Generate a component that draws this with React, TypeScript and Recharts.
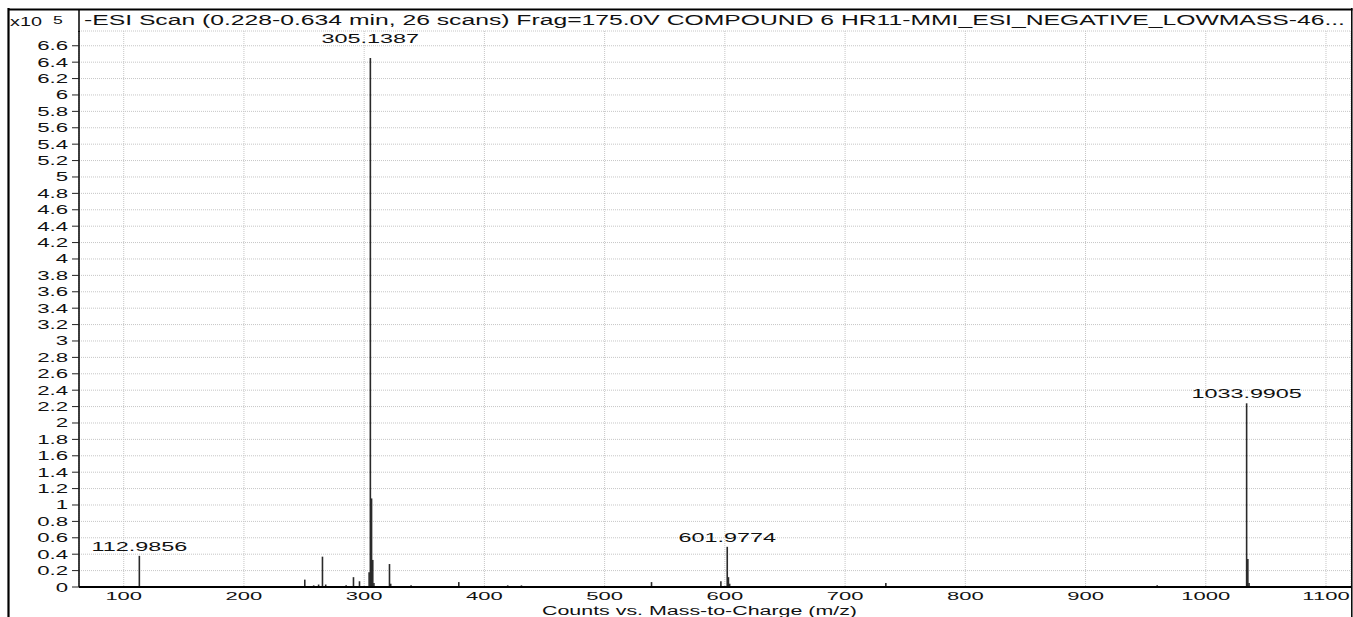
import React from "react";
import { BarChart, Bar, XAxis, YAxis, CartesianGrid, LabelList } from "recharts";

// m/z of each observed peak
const peakMz: number[] = [
  112.99, 250.6, 258.0, 262.1, 265.3, 268.0, 285.0, 291.1, 296.1, 304.13,
  305.14, 306.14, 307.14, 308.1, 321.05, 322.05, 339.0, 378.7, 419.4, 430.8,
  539.0, 596.7, 601.98, 602.98, 603.98, 733.9, 959.6, 1033.99, 1034.99, 1035.99,
];
// counts (x10^5)
const peakCounts: number[] = [
  0.38, 0.09, 0.02, 0.03, 0.37, 0.03, 0.02, 0.12, 0.07, 0.18,
  6.45, 1.08, 0.33, 0.05, 0.28, 0.04, 0.02, 0.06, 0.02, 0.02,
  0.06, 0.07, 0.49, 0.12, 0.04, 0.05, 0.02, 2.24, 0.34, 0.05,
];
// annotated peak labels
const peakLabels: string[] = [
  "112.9856", "", "", "", "", "", "", "", "", "",
  "305.1387", "", "", "", "", "", "", "", "", "",
  "", "", "601.9774", "", "", "", "", "1033.9905", "", "",
];
const xTicks: number[] = [100, 200, 300, 400, 500, 600, 700, 800, 900, 1000, 1100];
const yTicks: number[] = [
  0, 0.2, 0.4, 0.6, 0.8, 1, 1.2, 1.4, 1.6, 1.8, 2, 2.2, 2.4, 2.6, 2.8, 3, 3.2,
  3.4, 3.6, 3.8, 4, 4.2, 4.4, 4.6, 4.8, 5, 5.2, 5.4, 5.6, 5.8, 6, 6.2, 6.4, 6.6,
];
const titleText =
  "-ESI Scan (0.228-0.634 min, 26 scans) Frag=175.0V COMPOUND 6 HR11-MMI_ESI_NEGATIVE_LOWMASS-46...";
const xAxisTitle = "Counts vs. Mass-to-Charge (m/z)";

const data = peakMz.map((mz, i) => ({ mz, counts: peakCounts[i], label: peakLabels[i] }));

const FONT = "'Liberation Sans', Arial, Helvetica, sans-serif";

const YTick = (props: any) => {
  const { x, y, payload } = props;
  const txt = String(Number(Number(payload.value).toFixed(1)));
  return (
    <text
      transform={`translate(${x},${y + 4.5}) scale(1.85,1)`}
      textAnchor="end"
      fontFamily={FONT}
      fontSize={12}
      fill="#111"
    >
      {txt}
    </text>
  );
};

const XTick = (props: any) => {
  const { x, y, payload } = props;
  return (
    <text
      transform={`translate(${x},${y + 13}) scale(2.0,1)`}
      textAnchor="middle"
      fontFamily={FONT}
      fontSize={11}
      fill="#111"
    >
      {String(payload.value)}
    </text>
  );
};

const Stick = (props: any) => {
  const { x, y, width, height } = props;
  if (height === undefined || height <= 0) return null;
  const cx = x + width / 2;
  return <line x1={cx} x2={cx} y1={y} y2={y + height} stroke="#2a2a2a" strokeWidth={1.6} />;
};

const PeakLabel = (props: any) => {
  const { x, y, width, value } = props;
  if (!value) return null;
  const cx = x + width / 2;
  const off = y < 100 ? 15 : 5;
  return (
    <text
      transform={`translate(${cx},${y - off}) scale(1.8,1)`}
      textAnchor="middle"
      fontFamily={FONT}
      fontSize={13}
      fill="#111"
    >
      {value}
    </text>
  );
};

export default function App() {
  return (
    <div style={{ position: "absolute", left: 0, top: 0, width: 1353, height: 617, background: "#fff" }}>
      <div style={{ position: "absolute", left: 0, top: 0 }}>
        <BarChart
          width={1353}
          height={617}
          data={data}
          margin={{ top: 31, right: 2, bottom: 0, left: 19 }}
        >
          <CartesianGrid stroke="#c6c6c6" strokeDasharray="1 1" />
          <XAxis
            dataKey="mz"
            type="number"
            domain={[62.8, 1120.8]}
            allowDataOverflow
            ticks={xTicks}
            interval={0}
            tick={<XTick />}
            tickLine={false}
            tickSize={0}
            tickMargin={0}
            height={30}
            axisLine={{ stroke: "#000", strokeWidth: 2 }}
          />
          <YAxis
            type="number"
            domain={[0, 6.78]}
            allowDataOverflow
            ticks={yTicks}
            interval={0}
            tick={<YTick />}
            tickSize={7}
            tickMargin={4}
            width={60}
            tickLine={{ stroke: "#222", strokeWidth: 1 }}
            axisLine={{ stroke: "#000", strokeWidth: 1.5 }}
          />
          <Bar dataKey="counts" isAnimationActive={false} shape={<Stick />}>
            <LabelList dataKey="label" content={<PeakLabel />} />
          </Bar>
        </BarChart>
      </div>
      <svg
        width={1353}
        height={617}
        style={{ position: "absolute", left: 0, top: 0, pointerEvents: "none" }}
      >
        <line x1={8.5} x2={8.5} y1={8} y2={617} stroke="#000" strokeWidth={2.2} />
        <line x1={8} x2={1352.5} y1={9.5} y2={9.5} stroke="#000" strokeWidth={2} />
        <line x1={1351.8} x2={1351.8} y1={8} y2={617} stroke="#000" strokeWidth={1.5} />
        <line x1={79} x2={79} y1={9} y2={32} stroke="#000" strokeWidth={1.5} />
        <text transform="translate(10,26) scale(1.65,1)" fontFamily={FONT} fontSize={12} fill="#111">
          x10
        </text>
        <text transform="translate(53,24) scale(1.6,1)" fontFamily={FONT} fontSize={11} fill="#111">
          5
        </text>
        <text
          x={84}
          y={25}
          fontFamily={FONT}
          fontSize={14}
          fill="#111"
          textLength={1261}
          lengthAdjust="spacingAndGlyphs"
        >
          {titleText}
        </text>
        <text
          x={542}
          y={615}
          fontFamily={FONT}
          fontSize={12}
          fill="#111"
          textLength={315}
          lengthAdjust="spacingAndGlyphs"
        >
          {xAxisTitle}
        </text>
      </svg>
    </div>
  );
}
